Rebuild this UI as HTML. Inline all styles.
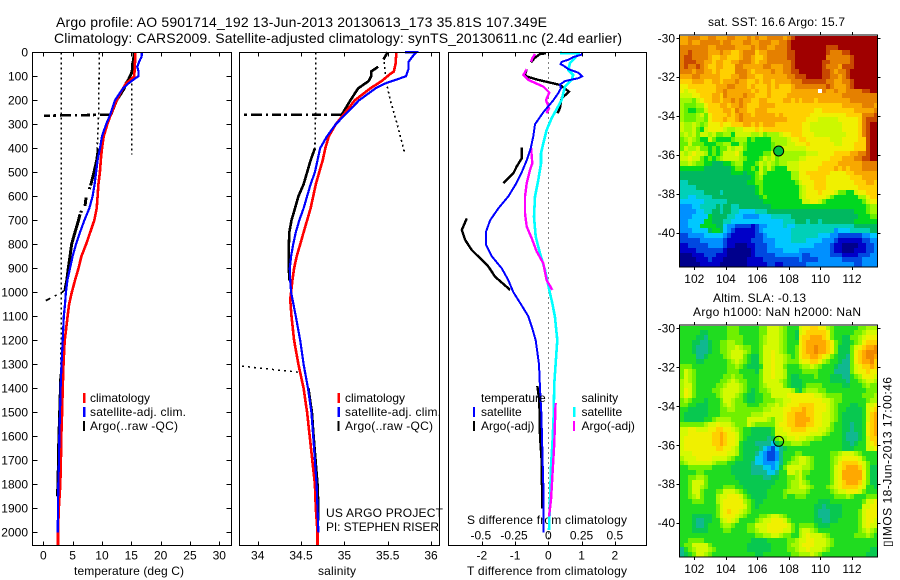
<!DOCTYPE html>
<html>
<head>
<meta charset="utf-8">
<title>Argo profile</title>
<style>
html,body{margin:0;padding:0;background:#fff;}
svg{display:block;font-family:"Liberation Sans","DejaVu Sans",sans-serif;font-size:12px;fill:#000;}
text{fill:#000;stroke:none;}
</style>
</head>
<body>
<svg id="chart" xmlns="http://www.w3.org/2000/svg" width="900" height="580" viewBox="0 0 900 580">
<rect x="0" y="0" width="900" height="580" fill="#fff"/>
<text x="56" y="27" font-size="14" textLength="491" lengthAdjust="spacing">Argo profile: AO 5901714_192 13-Jun-2013 20130613_173 35.81S 107.349E</text>
<text x="54" y="43" font-size="14" textLength="568" lengthAdjust="spacing">Climatology: CARS2009. Satellite-adjusted climatology: synTS_20130611.nc (2.4d earlier)</text>

<text x="74" y="575" textLength="110" lengthAdjust="spacing">temperature (deg C)</text>
<text x="318" y="575" textLength="38" lengthAdjust="spacing">salinity</text>
<text x="467" y="575" textLength="160" lengthAdjust="spacing">T difference from climatology</text>
<text x="467" y="524" textLength="160" lengthAdjust="spacing">S difference from climatology</text>

<text x="708" y="26" textLength="137" lengthAdjust="spacing">sat. SST: 16.6 Argo: 15.7</text>
<text x="713" y="302" textLength="93" lengthAdjust="spacing">Altim. SLA: -0.13</text>
<text x="693" y="316" textLength="168" lengthAdjust="spacing">Argo h1000: NaN h2000: NaN</text>
<text transform="translate(891.5,547) rotate(-90)" textLength="170" lengthAdjust="spacing">▯IMOS 18-Jun-2013 17:00:46</text>

<g>
<rect x="83" y="393" width="2.5" height="10" fill="#f00"/>
<rect x="83" y="407" width="2.5" height="10" fill="#00f"/>
<rect x="83" y="421" width="2" height="10" fill="#000"/>
<text x="90" y="402">climatology</text>
<text x="90" y="416" textLength="96" lengthAdjust="spacing">satellite-adj. clim.</text>
<text x="90" y="430" textLength="88" lengthAdjust="spacing">Argo(..raw -QC)</text>
</g>
<g>
<rect x="337.5" y="393" width="2.5" height="10" fill="#f00"/>
<rect x="337.5" y="407" width="2.5" height="10" fill="#00f"/>
<rect x="337.5" y="421" width="2" height="10" fill="#000"/>
<text x="345" y="402">climatology</text>
<text x="345" y="416" textLength="96" lengthAdjust="spacing">satellite-adj. clim.</text>
<text x="345" y="430" textLength="88" lengthAdjust="spacing">Argo(..raw -QC)</text>
<text x="326" y="517" textLength="117" lengthAdjust="spacing">US ARGO PROJECT</text>
<text x="326" y="531" textLength="113" lengthAdjust="spacing">PI: STEPHEN RISER</text>
</g>
<g id="layer-series"></g>
<g id="layer-maps"></g>
<g id="layer-axes"></g>
<g>
<rect x="473" y="407" width="2" height="10" fill="#00f"/>
<rect x="473" y="421" width="2" height="10" fill="#000"/>
<rect x="573" y="407" width="2.5" height="10" fill="#0ff"/>
<rect x="573" y="421" width="2" height="10" fill="#f0f"/>
<text x="481" y="402">temperature</text>
<text x="481" y="416">satellite</text>
<text x="481" y="430">Argo(-adj)</text>
<text x="581.5" y="402">salinity</text>
<text x="581.5" y="416">satellite</text>
<text x="581.5" y="430">Argo(-adj)</text>
</g>
</svg>
<script>
// ---------- profile data ----------
var depthTicks = [0,100,200,300,400,500,600,700,800,900,1000,1100,1200,1300,1400,1500,1600,1700,1800,1900,2000];
var tempTicks = [0,5,10,15,20,25,30];
var salTicks = [34,34.5,35,35.5,36];
var salTickLabels = ['34','34.5','35','35.5','36'];
var tDiffTicks = [-2,-1,0,1,2];
var sDiffTickLabels = ['-0.5','-0.25','0','0.25','0.5'];

var tempClimDepth = [0,60,100,110,130,170,200,260,300,350,400,450,500,550,600,650,700,750,800,850,900,950,1000,1050,1100,1150,1200,1300,1400,1500,1600,1700,1800,1900,2000,2056];
var tempClim = [15.7,15.6,15.5,15.05,14.1,13.1,12.5,11.5,10.9,10.3,10,9.8,9.65,9.4,9.25,9.1,8.7,8,7.3,6.5,6,5.4,4.85,4.4,4.15,3.9,3.65,3.45,3.3,3.2,3.07,3,2.9,2.65,2.5,2.5];
var tempSatDepth = [0,20,30,60,80,100,110,130,150,200,260,300,350,400,450,500,550,600,650,700,750,800,850,900,950,1000,1050,1100,1200,1300,1400,1500,1600,1700,1800,1900,2000];
var tempSat = [16.8,16.75,16.5,16,16.25,16.2,15.6,14.5,13.6,12.2,11.4,10.7,10,9.66,9.26,9,8.75,8.4,7.84,7,6.25,5.57,5,4.55,4.1,3.86,3.7,3.5,3.3,3.1,2.95,2.85,2.73,2.67,2.55,2.5,2.45];
var tempArgoDepth = [0,30,50,80,100,115,130,150,200,260,null,400,450,500,555,null,562,570,null,605,640,null,660,668,null,675,700,750,800,850,900,950,990,null,1340,1500,1620,1800,1850];
var tempArgo = [15.45,15.4,15.2,15.15,14.8,14.5,14.1,13.8,12.5,11.5,null,9.4,9.1,8.64,8.07,null,7.95,7.85,null,7.3,7.1,null,6.5,6.4,null,6.25,6,5.4,4.83,4.55,4.26,4,3.7,null,3,2.8,2.65,2.5,2.4];
var tempArgoTailDepth = [990,1000,1010,1020,1030,1040];
var tempArgoTail = [3.7,3.2,2.4,1.6,0.8,0];
var tempSpikeDepth = [260,264];
var tempSpike = [11.5,0.1];
var tempRawDepthA = [0,400,1000,1350];
var tempRawA = [3.07,3.07,3.07,3.0];
var tempRawDepthB = [0,250,430];
var tempRawB = [9.55,9.45,9.15];
var tempRawDepthC = [130,425];
var tempRawC = [15.1,15.1];

var salClimDepth = [0,50,80,90,120,150,200,260,300,350,400,450,500,550,600,650,700,750,800,850,900,950,1000,1030,1100,1200,1300,1400,1500,1600,1700,1800,1900,2000,2056];
var salClim = [35.6,35.59,35.57,35.53,35.43,35.3,35.12,34.99,34.9,34.82,34.78,34.75,34.71,34.67,34.64,34.61,34.57,34.53,34.49,34.45,34.42,34.4,34.385,34.375,34.39,34.42,34.47,34.53,34.57,34.6,34.63,34.66,34.67,34.69,34.69];
var salSatDepth = [0,0,20,40,70,100,110,130,150,200,260,300,350,400,450,500,550,600,650,700,750,800,850,900,950,1000,1100,1200,1300,1400,1500,1600,1700,1800,1900,2000];
var salSat = [35.7,35.83,35.78,35.74,35.74,35.71,35.63,35.47,35.36,35.17,35.01,34.9,34.8,34.72,34.69,34.66,34.61,34.57,34.53,34.48,34.44,34.41,34.385,34.37,34.375,34.385,34.44,34.49,34.53,34.58,34.62,34.64,34.66,34.68,34.69,34.7];
var salArgoDepth = [0,30,null,60,80,100,120,150,200,260,null,400,450,500,550,600,650,700,750,800,900,950,null,1400,1500,1600,1800,1900,1950];
var salArgo = [35.5,35.45,null,35.39,35.31,35.31,35.28,35.16,35.07,34.97,null,34.66,34.61,34.57,34.53,34.47,34.43,34.39,34.365,34.36,34.36,34.365,null,34.585,34.625,34.645,34.69,34.7,34.7];
var salSpikeDepth = [260,260];
var salSpike = [34.97,33.82];
var salRawDepthA = [0,200,400];
var salRawA = [34.67,34.67,34.66];
var salRawDepthB = [40,120,200,300,425];
var salRawB = [35.46,35.48,35.53,35.61,35.7];
var salRawDepthC = [1308,1334];
var salRawC = [33.82,34.5];

var tDiffSatDepth = [0,10,20,30,40,50,55,70,85,100,108,120,135,150,170,200,250,300,350,400,450,500,550,600,650,700,750,800,850,900,950,1000,1050,1100,1150,1200,1300,1400,1500,1600,1700,1800,1900,2000];
var tDiffSat = [1.03,1,.75,.62,.4,.37,.45,.6,.9,1.02,.9,.5,.35,.38,.3,.15,-.15,-.4,-.45,-.53,-.65,-.8,-.98,-1.2,-1.5,-1.75,-1.88,-1.88,-1.7,-1.4,-1.2,-1.05,-.82,-.6,-.48,-.38,-.28,-.25,-.21,-.19,-.17,-.15,-.15,-.15];
var tDiffArgoDepth = [4,7,25,42,null,71,94,101,115,136,164,192,233,254,null,396,442,476,504,546,null,692,740,782,824,865,893,935,990,null,1390,1450,1600,1700,1900];
var tDiffArgo = [-.07,-.25,-.42,-.52,null,-.65,-.7,-.65,-.3,.35,.62,.4,.35,.28,null,-.8,-.8,-.95,-1.05,-1.35,null,-2.45,-2.6,-2.5,-2.3,-2,-1.8,-1.6,-1.15,null,-.33,-.27,-.25,-.2,-.18];
var sDiffArgoDepth = [7,25,39,null,71,94,115,143,168,199,233,254,null,396,463,490,546,601,671,726,775,830,879,949,990,null,1462,1629,1701,1865,1934];
var sDiffArgo = [-.4,-.48,-.52,null,-.65,-.75,-.6,-.15,.03,-.07,.02,-.05,null,-.52,-.48,-.55,-.65,-.7,-.7,-.65,-.5,-.35,-.15,-.05,.12,null,.22,.18,.15,.08,.02];
var sDiffSatDepth = [3,5,8,46,74,94,115,143,199,275,324,379,421,463,532,601,685,768,838,907,1004,1046,1101,1199,1240,1379,1518,1615,1726,1865,1990];
var sDiffSat = [.35,.95,.9,.65,.6,.75,.7,.5,.4,.1,-.05,-.15,-.22,-.22,-.3,-.4,-.43,-.38,-.25,-.1,.05,.12,.2,.27,.25,.18,.16,.13,.08,.05,.02];

// ---------- map data (base-36 colour level per cell, x = no data) ----------
var lonTicks = [102,104,106,108,110,112];
var latTicks = [-30,-32,-34,-36,-38,-40];
var argoLon = 107.349;
var argoLat = -35.81;
var sstColors = ['#00008c','#0000c8','#0048e0','#0090ff','#00c8ff','#00d0b8','#00b860','#00d820','#68f000','#a0f800','#ccf800','#f0f000','#ffd000','#f8a800','#e58000','#c84800','#a00000'];
var slaColors = ['#00008c','#0000c8','#0048e0','#0090ff','#00c8f0','#10b890','#08c850','#20dc20','#70f000','#a8f800','#d4fa00','#f0f000','#ffd000','#ffa800','#f08800','#c84800','#a00000'];
var sstRows = [
"ddeeeddeed ddeedddede ddeeeedefg gggggggggg gggggggggg",
"ddeddeeeee deedddeedd eeeddeefgg gggggggggg gggggggggg",
"eeeeeeedde eeeedddded eeddeeefgg gggggggfff gggggggggg",
"eefeeeeddd eddccdeeec ddeeeeeffg gggggggfee effggggggg",
"effeeeedcc ddcccdeedc cdeeeeeffg gggggggeee eeefgggggg",
"efffeeddcd dccddeeedc ddeeeeeefg ggggggffee eeefgggggg",
"efeefedccd dccceedddd deedddeefg ggggggfeee dfffgggggg",
"eeedeeddcd cccceeedcd dddeddeeff ggggggffed eefggggggg",
"dddeeddddd cccddeeddc cddddddeef ffggggffee defggggggg",
"cccdddccdd cdddeddccd cddcddddee effffffeed deefgggggg",
"bbcccccccd ddeedddcdc ccdcdcccde eeeeeeefed ddefgggggg",
"babbcccccd deddddddcd ccdcccccdd dddddxedde ddeeeeffgg",
"aaabbcccdd ceddddeddc ccdccccddd dddddddddd deeeeeeeee",
"9998abccdd cddededdcc ddccccddcd cdddcddddd dddeeeeeee",
"988899bccc ddcddedccc ddddcccccc cccccccccc cdddddeeed",
"987788accc cddceddccd ddcccccccc ccccbbcccc ccccddddde",
"98889a8bcc ccdcdeddcd ddddcdcccc cccbbbbbbb bbcccceeef",
"9888998bcc cdccdedddd dddddddccc ccbbbaaaaa bbbbbcefff",
"a99a989bbb cbbcccddcd cdddcccccc cbbaaaaaaa abbbbcefgg",
"a99a87abbb ba99aabbbc bccccccccc cbbaaaaaaa abbbbcefgg",
"9a9a8aa9a8 8997aaaa99 a8999abbcc cbbbaaaaaa aabbbcefgg",
"89a9877a87 7778999787 7779999abb ccbbbbbbaa abbbbccfgg",
"88a8887778 8997798777 7778999aab bbcbbbbbba abbbcccfgg",
"8a99a88787 88a9aa8777 7778aaaaaa aabbbbbbbb bbbbcccfgg",
"a9abaa9787 8aaab97777 788a9a9999 99aaabbbbc cccddeefgg",
"aabaa87878 9aaaa98777 8a9a899999 aabbbbbbcc cdddeeffgg",
"99a9887766 6778997778 a9a9899aaa bbbbbbcccc ddddddeeee",
"7777776666 6667887787 a8a8777aaa bbbbbccccd cdcdddeeee",
"6666666666 6667776778 a877777799 bbccccccbb bbccdddddd",
"6666666666 6666666678 9777777799 bbbccccbbb bbbcccdddd",
"5566666666 6666666778 8777777778 abbbcccbbb bbbbcccddc",
"5555666666 6666666667 8777777777 9abbcccbbb bbbbbccccc",
"5555556666 5666666667 8777777777 9abbbcbbba 8877abbccc",
"5544555566 6666666666 7877777777 9abbbbba87 7777799bcc",
"4444445555 5566666666 6777777777 7aabba8777 7777778abb",
"3334455556 5665566666 6667777777 7777777777 7777777899",
"3333445566 5665544445 5566666666 6666666666 6666777899",
"3334444766 6655443333 4445555566 6666666666 6666677788",
"3344447766 6554444444 4444445556 6656656666 6666777777",
"3344477776 6433222212 3344445445 5555555555 5555666666",
"3334444677 6432111112 3444444455 5555555553 4445555566",
"2233334444 4321111112 2344444455 5555544433 2222223344",
"2222233333 3211111122 2333444455 5544443332 1111112233",
"1122222333 3211000112 2233444444 4444333321 1000011223",
"1111222222 2100000012 2233334444 3333333321 1000111223",
"0001112221 1100000012 2222333333 3223333322 2111122233",
"0000111211 1000000111 1222222222 3222233333 3222223333",
"0000011111 0000000111 1122112222 2233333333 3333223333"
];
var slaRows = [
"7777777777 7788877777 88aaa98777 abbccbb987 7777788999",
"7777766777 7788877777 88aaa98776 abcccccb87 7777889aaa",
"7777665777 7788887777 89aaa98776 bccdddcb87 766889abbb",
"7776655677 8899887777 89aaa98777 bcdddddcb8 766789bccc",
"7776555677 8899a98877 8aaaa98778 bcddeddcb8 6668abcdde",
"7776555677 889aaa9877 8aaba98778 bcddeddcb8 6668bcdeee",
"7777556777 789aaa8766 8aabaa9878 bccddcba87 6658bcdeed",
"7777667777 7789a98766 8aabaa9888 abbccb9877 6558bcddec",
"8887777777 7788987666 7aabaa8777 899a987776 5558abccdc",
"8a98777777 7788877776 8aabaa9777 7888877775 5558abbcbb",
"8a98777777 7889887777 8aabaa9766 7777877766 655789bbba",
"9a98777777 889a988777 8aaaa98766 6777777766 6657789aa9",
"9aa8777778 89aaa98777 89aaaa8766 6788887777 7667778988",
"9ba8777788 9aaaa98767 889aaaaa97 6899988777 7777777888",
"9ba8777778 9aaa987667 788aaaabbb bbbbaa9888 8777778889",
"8987776777 8aa9887667 788899aabb bbbbbbaa98 8777777899",
"8877666777 89a9888777 8899a9abbb ccccbbba98 7776677aab",
"7766666777 8899888888 899aaabbcc cdccbbba98 7766667abc",
"7666666777 8888888899 9aaaaabccd ddccbbaa98 7666667acd",
"7666667789 9998888aaa aa98aabccd dddcbbaa98 7666667acd",
"8888889aab aaa9888a98 8888abbccd ddccbbaa87 7665667bcd",
"aabbaaabbc cbba987766 6667aabbcc ccbbbaa987 7665667bcd",
"aabbbbbbcc dcbba87766 6667aaabbb bbbaaa9877 7655567bcd",
"abbbbbbbcc dcbba87666 6656899aab aa99887777 7655567acc",
"abbbbbbbcc dcbba76665 5554678899 9887777777 7665677abc",
"abbbbbbbbc cbba976666 5432456777 7777777777 7666777aab",
"aaabbbbbbb bbaa976665 4322357778 8777777788 9aaa987777",
"9aaabbbbaa aa98776664 4322357789 aa98777789 abbbba8777",
"89aaaaaa98 8877666654 4333457899 aa98777789 bccccba877",
"7788888877 7776666655 5443468aaa a99877778a bcdddca866",
"7777887777 7776666655 5544577aa9 a88777778a bdddddb866",
"7788998777 7777666666 6556677889 a87777778a bdddddb866",
"778aaa8777 7777766666 6666777899 a98777778a bcdddca866",
"778aa98777 7888776666 6667777899 aa9877789a bccccba776",
"778aa87778 8aaa987666 6677778999 9987777789 aabbba8777",
"7789a87779 aabbba8766 6677778778 8877777778 8898777888",
"7778887779 abbbbb9876 6777777777 7777766677 7777778aab",
"7777777778 abbbbba876 7777777777 7777665666 677777aabb",
"7777777778 abcbba9877 7777777777 7777655566 677778abbb",
"7776666678 abbba98777 889aa98777 7777655566 677778abbb",
"7776556677 9aba977778 9aabbba877 7777665566 777778abba",
"7776556777 899877788a aabbbbba87 8888766677 777778abaa",
"7776666777 7887777889 aabbbbaa87 9aa9877777 7777789a98",
"7777777777 7777777778 899aa98877 9abaaa9877 7777888987",
"7788887777 7777777766 6677777889 aabbaaa987 7777777777",
"788aaaa877 7777777666 6667777899 abbbaaa987 7777777777",
"5789aaa987 7777777666 6667777889 aabaaa9877 7777777766",
"5678aa9877 7777777776 6777777788 999a987777 7777777666"
];

// ---------- drawing ----------
var NS = 'http://www.w3.org/2000/svg';
var seriesLayer = document.getElementById('layer-series');
var mapLayer = document.getElementById('layer-maps');
var axisLayer = document.getElementById('layer-axes');
var panelTop = 52.5, panelBottom = 545.5;
function mk(tag, parent, props) {
  var el = document.createElementNS(NS, tag);
  for (var k in props) { el.setAttribute(k, props[k]); }
  parent.appendChild(el);
  return el;
}
function yDepth(d) { return 52.3 + 0.24 * d; }
function xTemp(t) { return 43.3 + 5.867 * t; }
function xSal(s) { return 257.7 + 86.67 * (s - 34); }
function xDiffT(v) { return 548.3 + 33.25 * v; }
function xLon(lon) { return 694.3 + 15.77 * (lon - 102); }
function yLat1(lat) { return 38 + 19.45 * (-30 - lat); }
function yLat2(lat) { return 328.3 + 19.45 * (-30 - lat); }

function profilePath(depths, values, xFn) {
  var d = '', pen = false;
  for (var i = 0; i < depths.length; i++) {
    if (depths[i] === null || values[i] === null) { pen = false; continue; }
    d += (pen ? 'L' : 'M') + xFn(values[i]).toFixed(1) + ' ' + yDepth(depths[i]).toFixed(1);
    pen = true;
  }
  return d;
}
function drawProfile(depths, values, xFn, color, width, dash) {
  var props = {d: profilePath(depths, values, xFn), fill: 'none', stroke: color, 'stroke-width': width, 'shape-rendering': 'crispEdges'};
  if (dash) { props['stroke-dasharray'] = dash; }
  return mk('path', seriesLayer, props);
}
var el;
// temperature panel
el = drawProfile(tempRawDepthA, tempRawA, xTemp, '#000', 1.6, '2 3');


el = drawProfile(tempRawDepthB, tempRawB, xTemp, '#000', 1.6, '2 3');


el = drawProfile(tempRawDepthC, tempRawC, xTemp, '#000', 1.6, '2 3');


el = drawProfile(tempArgoDepth, tempArgo, xTemp, '#000', 3);


el = drawProfile(tempArgoTailDepth, tempArgoTail, xTemp, '#000', 1.6, '5 5 2 5');


el = drawProfile(tempSpikeDepth, tempSpike, xTemp, '#000', 2.6, '11 4 3 3 9 4 2 4');


el = drawProfile(tempClimDepth, tempClim, xTemp, '#f00', 2.6);


el = drawProfile(tempSatDepth, tempSat, xTemp, '#00f', 2.2);


// salinity panel
el = drawProfile(salRawDepthA, salRawA, xSal, '#000', 1.6, '2 3');


el = drawProfile(salRawDepthB, salRawB, xSal, '#000', 1.6, '2 3');


el = drawProfile(salRawDepthC, salRawC, xSal, '#000', 1.5, '2 4');


el = drawProfile(salArgoDepth, salArgo, xSal, '#000', 2.6);


el = drawProfile(salSpikeDepth, salSpike, xSal, '#000', 2.6, '11 4 3 3 9 4 2 4');


el = drawProfile(salClimDepth, salClim, xSal, '#f00', 2.6);


el = drawProfile(salSatDepth, salSat, xSal, '#00f', 2.2);


// difference panel
el = mk('line', seriesLayer, {x1: 548.5, x2: 548.5, y1: panelTop, y2: panelBottom, stroke: '#000', 'stroke-width': 1, 'stroke-dasharray': '1 4', 'shape-rendering': 'crispEdges'});


el = drawProfile(tDiffArgoDepth, tDiffArgo, xDiffT, '#000', 2.4);


el = drawProfile(sDiffSatDepth, sDiffSat, xDiffT, '#0ff', 2.6);


el = drawProfile(sDiffArgoDepth, sDiffArgo, xDiffT, '#f0f', 2.4);


el = drawProfile(tDiffSatDepth, tDiffSat, xDiffT, '#00f', 2);



// axes helpers
function tick(x1, y1, x2, y2) {
  return mk('line', axisLayer, {x1: x1, y1: y1, x2: x2, y2: y2, stroke: '#000', 'stroke-width': 1, 'shape-rendering': 'crispEdges'});
}
function label(str, x, y, anchor) {
  var t = mk('text', axisLayer, {x: x, y: y, 'text-anchor': anchor});
  t.textContent = str;
  return t;
}
function frame(x, y, w, h) {
  return mk('rect', axisLayer, {x: x, y: y, width: w, height: h, fill: 'none', stroke: '#000', 'stroke-width': 1, 'shape-rendering': 'crispEdges'});
}
el = frame(32.5, 52.5, 199, 493);


el = frame(239.5, 52.5, 200, 493);


el = frame(448.5, 52.5, 198, 493);



depthTicks.forEach(function (d) {
  var y = Math.round(yDepth(d)) + 0.5;
  var a = tick(32.5, y, 37.5, y);
  
  
  var b = tick(226.5, y, 231.5, y);
  
  
  var t = label(String(d), 28, yDepth(d) + 4.3, 'end');
  
  
});
tempTicks.forEach(function (v) {
  var x = Math.round(xTemp(v)) + 0.5;
  var a = tick(x, 52.5, x, 56.5);
  
  
  var b = tick(x, 541.5, x, 545.5);
  
  
  var t = label(String(v), xTemp(v), 559.5, 'middle');
  
  
});
salTicks.forEach(function (v, i) {
  var x = Math.round(xSal(v)) + 0.5;
  var a = tick(x, 52.5, x, 56.5);
  
  
  var b = tick(x, 541.5, x, 545.5);
  
  
  var t = label(salTickLabels[i], xSal(v), 559.5, 'middle');
  
  
});
tDiffTicks.forEach(function (v, i) {
  var x = Math.round(xDiffT(v)) + 0.5;
  var a = tick(x, 52.5, x, 56.5);
  
  
  var b = tick(x, 541.5, x, 545.5);
  
  
  var t = label(String(v), xDiffT(v), 559.5, 'middle');
  
  
  var s = label(sDiffTickLabels[i], xDiffT(v) - (v < 0 ? 1 : 0), 539.5, 'middle');
  
  
});

// maps
function drawMap(rows, colors, top, yLat, mapName) {
  var g = mk('g', mapLayer, {});
  
  
  var left = 680, cw = 197.5 / 50, ch = 231.5 / 48;
  rows.forEach(function (rawRow, j) {
    var row = rawRow.replace(/ /g, '');
    for (var i = 0; i < 50; i++) {
      var c = row.charAt(Math.min(i, row.length - 1));
      if (c === 'x') { continue; }
      var level = parseInt(c, 36);
      var x0 = Math.round(left + i * cw), x1 = Math.round(left + (i + 1) * cw);
      var y0 = Math.round(top + j * ch), y1 = Math.round(top + (j + 1) * ch);
      var cell = mk('rect', g, {x: x0, y: y0, width: x1 - x0, height: y1 - y0, fill: colors[level], 'shape-rendering': 'crispEdges'});
      
      
    }
  });
  var f = frame(679.5, top - 0.5, 198, 232);
  
  
  lonTicks.forEach(function (lon) {
    var x = Math.round(xLon(lon)) + 0.5;
    var a = tick(x, top - 3.5, x, top - 0.5);
    
    
    var b = tick(x, top + 231.5, x, top + 234.5);
    
    
    var t = label(String(lon), xLon(lon), top + 247.5, 'middle');
    
    
  });
  latTicks.forEach(function (lat) {
    var y = Math.round(yLat(lat)) + 0.5;
    var a = tick(676.5, y, 679.5, y);
    
    
    var b = tick(877.5, y, 880.5, y);
    
    
    var t = label(String(lat), 675, yLat(lat) + 4.3, 'end');
    
    
  });
}
drawMap(sstRows, sstColors, 35.5, yLat1, 'sst-map');
drawMap(slaRows, slaColors, 325.5, yLat2, 'sla-map');

el = mk('circle', mapLayer, {cx: xLon(argoLon), cy: yLat1(argoLat), r: 5, fill: '#00c040', stroke: '#000', 'stroke-width': 1});


el = mk('circle', mapLayer, {cx: xLon(argoLon), cy: yLat2(argoLat), r: 5, fill: 'none', stroke: '#000', 'stroke-width': 1});


</script>
</body>
</html>
